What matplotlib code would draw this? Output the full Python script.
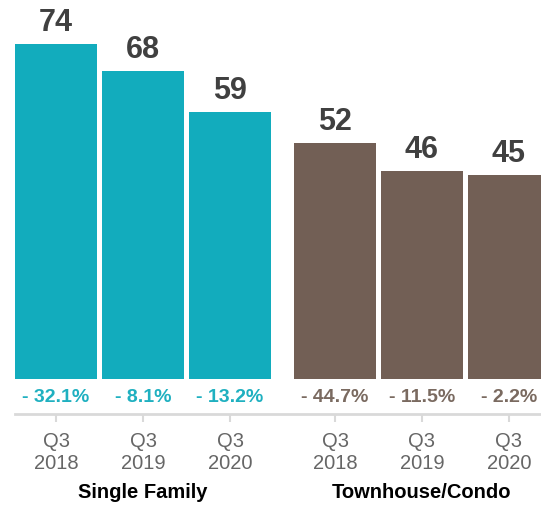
import matplotlib.pyplot as plt
from matplotlib.transforms import offset_copy, blended_transform_factory

plt.rcParams['font.family'] = ['Liberation Sans', 'DejaVu Sans']

# data
groups = ['Single Family', 'Townhouse/Condo']
periods = ['Q3\n2018', 'Q3\n2019', 'Q3\n2020']
single_family = [74, 68, 59]
townhouse = [52, 46, 45]
sf_change = ['- 32.1%', '- 8.1%', '- 13.2%']
th_change = ['- 44.7%', '- 11.5%', '- 2.2%']

cyan = '#12acbd'
brown = '#725f55'
cyan_txt = '#1fb0c0'
brown_txt = '#7a6a60'

fig = plt.figure(figsize=(5.41, 5.06), dpi=100)
ax = fig.add_axes([0, 91 / 506, 1, 415 / 506])

gap = 1.207  # offset of second group
x_sf = [0, 1, 2]
x_th = [i + 2 + gap for i in range(3)]
w = 0.943

ax.bar(x_sf, single_family, width=w, color=cyan)
ax.bar(x_th, townhouse, width=w, color=brown)

ax.set_xlim(-0.644, 5.575)
ax.set_ylim(-7.73, 83.9)

# value labels above bars
lbl_tf = offset_copy(ax.transData, fig=fig, x=0, y=14, units='dots')
for xs, vals in ((x_sf, single_family), (x_th, townhouse)):
    for x, v in zip(xs, vals):
        ax.text(x, v, str(v), transform=lbl_tf, ha='center', va='baseline',
                fontsize=22, fontweight='bold', color='#404040')

# percent change labels just above the axis line
for xs, labels, c in ((x_sf, sf_change, cyan_txt), (x_th, th_change, brown_txt)):
    for x, t in zip(xs, labels):
        ax.text(x, -3.9, t, ha='center', va='center', fontsize=14,
                fontweight='bold', color=c)

for s in ('top', 'right', 'left'):
    ax.spines[s].set_visible(False)
ax.spines['bottom'].set_color('#d9d9d9')
ax.spines['bottom'].set_linewidth(2)
ax.spines['bottom'].set_bounds(-0.47, 5.575)
ax.set_yticks([])
ax.set_xticks(x_sf + x_th)
ax.set_xticklabels(periods * 2, fontsize=14.5, color='#666666', linespacing=1.25)
ax.tick_params(axis='x', length=6, width=1.5, color='#d9d9d9', pad=6)

# group labels
grp_tf = blended_transform_factory(ax.transData, fig.transFigure)
for xs, g in ((x_sf, groups[0]), (x_th, groups[1])):
    ax.text(xs[1], 1 - 493 / 506, g, transform=grp_tf, ha='center',
            va='center', fontsize=14.5, fontweight='bold', color='black')

fig.savefig('out.png', dpi=100)
